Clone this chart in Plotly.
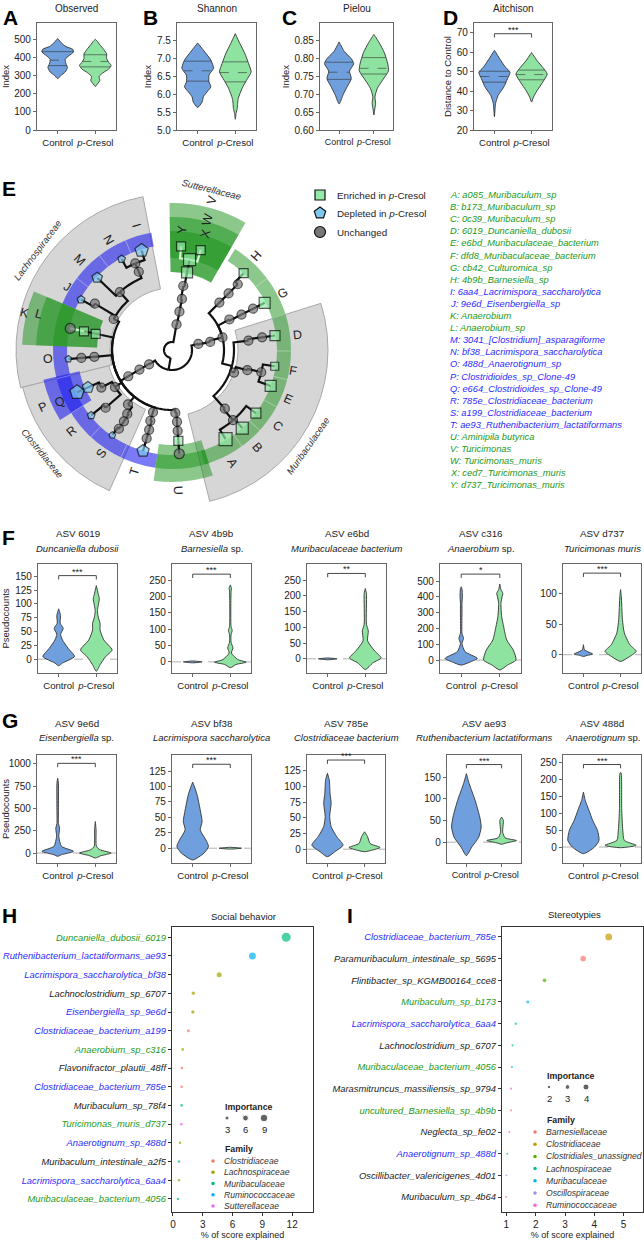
import numpy as np
import plotly.graph_objects as go

W, H = 644, 1240
NARROW = "Liberation Sans, Arial, sans-serif"
SANS = "Liberation Sans, Arial, sans-serif"
INK = "#222222"
TXT_COLORS = {"g": "#229a22", "b": "#2b2bff", "k": "#222222"}

GROUPS = ["Control", "<i>p</i>-Cresol"]
CTRL_FILL = "#6f9fdc"
CRES_FILL = "#8fe3a0"

# ---------- A-D: diversity violins, outlines as (value, half width) ----------
DIV_TITLES = ["Observed", "Shannon", "Pielou", "Aitchison"]
OBS_CTRL = [(283, 0), (300, .08), (320, .2), (345, .26), (365, .22), (390, .2), (410, .3), (430, .42),
            (445, .4), (460, .22), (480, .1), (495, .04), (505, 0)]
OBS_CRES = [(240, 0), (255, .06), (273, .12), (295, .1), (315, .2), (335, .35), (356, .42), (375, .35),
            (395, .3), (420, .3), (445, .22), (470, .12), (490, .05), (500, 0)]
SHA_CTRL = [(5.63, 0), (5.79, .12), (5.93, .15), (6.07, .25), (6.21, .35), (6.35, .3), (6.54, .3),
            (6.73, .42), (6.96, .35), (7.24, .15), (7.44, 0)]
SHA_CRES = [(5.3, 0), (5.47, .02), (5.6, .05), (5.75, .06), (5.89, .08), (6.17, .18), (6.4, .3),
            (6.63, .42), (6.87, .35), (7.15, .25), (7.43, .12), (7.7, 0)]
PIE_CTRL = [(0.673, 0), (0.70, .12), (0.725, .25), (0.744, .35), (0.765, .3), (0.786, .42), (0.80, .35),
            (0.82, .15), (0.847, 0)]
PIE_CRES = [(0.642, 0), (0.656, .02), (0.675, .05), (0.693, .03), (0.717, .1), (0.74, .25), (0.766, .42),
            (0.785, .4), (0.817, .3), (0.845, .15), (0.868, 0)]
AIT_CTRL = [(26.8, 0), (33.6, .03), (37.8, .1), (42, .25), (46.3, .35), (49.7, .42), (52.2, .3),
            (56.4, .15), (61, 0)]
AIT_CRES = [(34.4, 0), (36.9, .05), (40.3, .15), (44.6, .3), (48.8, .42), (52.2, .3), (55.6, .15), (59.8, 0)]
# quartiles (q1, median, q3)
OBS_Q = [(355, 385, 432), (348, 378, 415)]
SHA_Q = [(6.37, 6.66, 6.93), (6.35, 6.61, 6.91)]
PIE_Q = [(0.742, 0.762, 0.79), (0.757, 0.773, 0.803)]
AIT_Q = [(44.6, 47.5, 50.2), (45.8, 48.5, 50.8)]

# ---------- F/G: differentially abundant ASVs ----------
F_ASV = ["ASV 6019", "ASV 4b9b", "ASV e6bd", "ASV c316", "ASV d737"]
F_TAXA = ["<i>Duncaniella dubosii</i>", "<i>Barnesiella</i> sp.", "<i>Muribaculaceae bacterium</i>",
          "<i>Anaerobium</i> sp.", "<i>Turicimonas muris</i>"]
F_SIG = ["***", "***", "**", "*", "***"]
F_SIG_Y = [151, 268, 271, 544, 134]
F_RANGE = [(-25, 172), (-34, 299), (-45, 301), (-82, 608), (-30, 149)]
F_TICKS = [[0, 25, 50, 75, 100, 125, 150], [0, 50, 100, 150, 200, 250], [0, 50, 100, 150, 200, 250],
           [0, 100, 200, 300, 400, 500], [0, 50, 100]]
F_CTRL = [
    [(-12, 0), (-7, .1), (4.8, .42), (19.7, .25), (34.7, .1), (45, .05), (55.6, .12), (65, .04), (79, .05), (91, 0)],
    [(-3, 0), (0, .25), (3, 0)],
    [(-3, 0), (0, .25), (3, 0)],
    [(-32, 0), (-10, .25), (10.5, .42), (53, .1), (105, .02), (137, .06), (170, .02), (295, .02), (359, .02),
     (400, .03), (422, .03), (450, .02), (464, 0)],
    [(-3, 0), (-1, .1), (1, .25), (8, .03), (16.5, 0)],
]
F_CRES = [
    [(-22, 0), (-10, .1), (4.8, .25), (16.7, .42), (34.7, .2), (52.6, .1), (64.5, .1), (76.5, .05), (88, .03),
     (109, .08), (118, .05), (133, 0)],
    [(-18, 0), (-8, .15), (-1, .42), (7, .2), (27, .03), (42.5, .07), (60, .02), (83, .02), (96, .05), (108, .02),
     (214, .02), (225, .03), (235, 0)],
    [(-34, 0), (-13, .2), (3, .42), (25, .25), (57, .06), (89, .08), (110, .03), (207, .03), (223, 0)],
    [(-63, 0), (-32, .2), (0, .42), (63, .35), (127, .18), (211, .1), (274, .05), (359, .03), (401, .06),
     (422, .08), (445, .03), (481, 0)],
    [(-11, 0), (-2.7, .25), (5.5, .42), (16.5, .25), (36, .1), (58, .05), (96, .02), (107, 0)],
]
G_ASV = ["ASV 9e6d", "ASV bf38", "ASV 785e", "ASV ae93", "ASV 488d"]
G_TAXA = ["<i>Eisenbergiella</i> sp.", "<i>Lacrimispora saccharolytica</i>", "<i>Clostridiaceae bacterium</i>",
          "<i>Ruthenibacterium lactatiformans</i>", "<i>Anaerotignum</i> sp."]
G_SIG = ["***", "***", "***", "***", "***"]
G_SIG_Y = [1007, 136, 142, 179, 243]
G_RANGE = [(-112, 1101), (-24, 151), (-22, 150), (-48, 201), (-47, 271)]
G_TICKS = [[0, 250, 500, 750, 1000], [0, 25, 50, 75, 100, 125], [0, 25, 50, 75, 100, 125],
           [0, 50, 100, 150], [0, 50, 100, 150, 200, 250]]
G_CTRL = [
    [(-37, 0), (-19, .1), (19, .42), (75, .1), (187, .03), (280, .05), (330, .02), (485, .02), (784, .02), (840, 0)],
    [(-19, 0), (-8, .3), (2.7, .42), (13.4, .35), (29.5, .2), (43, .25), (62, .2), (86, .12), (99, .05), (107, 0)],
    [(-12, 0), (-4, .2), (6.4, .42), (20, .25), (36, .1), (52, .06), (73, .1), (89, .07), (110, .05), (121, 0)],
    [(-31, 0), (-11.5, .15), (11.5, .35), (35, .42), (58, .38), (96, .25), (135, .08), (158, 0)],
    [(-19.6, 0), (0, .3), (19.6, .42), (49, .38), (78, .25), (108, .15), (137, .05), (162, 0)],
]
G_CRES = [
    [(-56, 0), (-30, .15), (0, .42), (37, .12), (75, .03), (261, .02), (354, 0)],
    [(-1.5, 0), (0, .3), (1.5, 0)],
    [(-4, 0), (-1.6, .2), (2.7, .42), (9, .15), (20, .08), (27.7, 0)],
    [(-5, 0), (-2.3, .1), (3.8, .42), (10, .1), (23, .03), (50, .05), (58, 0)],
    [(-2, 0), (5, .42), (19.6, .1), (49, .06), (113, .03), (216, .02), (220, 0)],
]

# ---------- E: taxonomic tree (id, parent, radius, angle, marker kind, marker size) ----------
TREE = [
    ("root", None, 8, 260, "", 0), ("p1", "root", 20, 260, "", 0),
    ("f0", "p1", 27, 212, "c", 9), ("f1", "f0", 38, 211, "c", 9), ("f2", "f1", 51, 211, "c", 9),
    ("f3", "f2", 60, 211, "", 0),
    ("la", "f3", 66, 152, "c", 9), ("lb", "la", 78, 132, "c", 9), ("lc", "lb", 85, 113, "c", 9),
    ("ld", "lc", 94, 113, "c", 9), ("I", "ld", 104, 107, "p", 14), ("N", "ld", 104, 119, "p", 8),
    ("M", "lb", 104, 136, "p", 11), ("lj", "la", 90, 149, "c", 9), ("J", "lj", 104, 151, "p", 8),
    ("ll", "f3", 72, 168, "", 0), ("l1", "ll", 78, 168, "s", 9), ("l2", "l1", 90, 168, "s", 9),
    ("K", "l2", 104, 168, "c", 10),
    ("lo", "f3", 78, 185, "c", 9), ("lo2", "lo", 91, 185, "c", 9), ("O", "lo2", 104, 185, "p", 7),
    ("cf", "f3", 68, 213, "c", 9), ("cq", "cf", 80, 208, "c", 9), ("Q2", "cq", 92, 204, "p", 12),
    ("Q", "Q2", 104, 204, "p", 15), ("cr", "cf", 88, 221, "c", 9), ("R", "cr", 104, 219, "p", 8),
    ("cs", "f3", 70, 231, "c", 9), ("cs2", "cs", 78, 235, "c", 9), ("cs3", "cs2", 86, 236, "c", 9),
    ("cs4", "cs3", 95, 236, "c", 9), ("S", "cs4", 104, 235, "p", 7),
    ("ct", "f3", 65, 253, "c", 9), ("ct2", "ct", 74, 253, "c", 9), ("ct3", "ct2", 83, 254, "c", 9),
    ("ct4", "ct3", 92, 254, "c", 9), ("T", "ct4", 105, 254, "p", 13),
    ("cu", "f3", 63, 273, "c", 9), ("cu2", "cu", 72, 274, "c", 9), ("cu3", "cu2", 81, 274, "c", 9),
    ("cu4", "cu3", 91, 274, "s", 9), ("U", "cu4", 104, 274, "c", 10),
    ("b0", "p1", 27, 373, "c", 9), ("b1", "b0", 39, 372, "c", 9), ("b2", "b1", 52, 374, "c", 9),
    ("bg", "b2", 65, 388, "c", 9), ("bg2", "bg", 78, 387, "c", 9), ("bg3", "bg2", 91, 387, "c", 9),
    ("G", "bg3", 104, 387, "s", 11),
    ("bh", "b2", 67, 405, "c", 9), ("bh2", "bh", 80, 405, "c", 9), ("bh3", "bh2", 93, 405, "c", 9),
    ("H", "bh3", 105, 407, "s", 9),
    ("mu", "b2", 62, 345, "", 0), ("md", "mu", 77, 367, "c", 9), ("md2", "md", 91, 368, "c", 9),
    ("D", "md2", 104, 368, "s", 10),
    ("me", "mu", 66, 340, "c", 9), ("me2", "me", 78, 345, "c", 9), ("me3", "me2", 92, 346, "c", 9),
    ("F", "me3", 104, 351, "s", 8), ("E", "me3", 105, 340, "s", 11),
    ("ma", "mu", 79, 312, "c", 9), ("ma2", "ma", 93, 311, "c", 9), ("C", "ma2", 105, 323, "s", 10),
    ("B", "ma2", 105, 312, "s", 12), ("A", "ma2", 104, 301, "s", 13),
    ("su0", "root", 26, 80, "c", 9), ("su1", "su0", 39, 79, "c", 9), ("su2", "su1", 52, 79, "c", 9),
    ("su3", "su2", 65, 80, "c", 9), ("su4", "su3", 79, 79, "s", 11), ("su5", "su4", 92, 79, "s", 12),
    ("Y", "su5", 104, 85, "s", 9), ("X", "su5", 104, 74, "s", 9),
]
LIGHT_EDGES = {"X", "Y", "K"}
# family backgrounds (name, angle from, angle to, r inner, r outer)
FAMILY_SECTORS = [("Lachnospiraceae", 100.7, 194, 62, 156), ("Clostridiaceae", 194, 246, 65, 154),
                  ("Muribaculaceae", -76, 17.4, 66, 156)]
# enriched (g) / depleted (b) highlight bands
HIGHLIGHTS = [(-74, 58, 105, 119, "g"), (100, 157, 105, 119, "b"), (178, 262, 105, 119, "b"),
              (60, 91, 78, 147, "g"), (60, 91, 78, 133, "g"), (60, 91, 92, 119, "g"),
              (157, 178, 75, 150, "g"), (157, 178, 75, 136, "g"), (157, 178, 105, 119, "g"),
              (262, 288, 95, 132, "g"), (262, 288, 105, 119, "g"), (193, 212, 95, 132, "b")]
# faint dividers between neighbouring leaves on the coloured ring
RING_DIVIDERS = [306, 317.5, 331.5, 345.5, 359.5, 377.5, 397, 113, 127.5, 143, 194, 212, 227, 244.5]
LETTERS = ["A", "B", "C", "E", "F", "D", "G", "H", "X", "Y", "W", "V", "I", "N", "M", "J", "L", "K",
           "O", "Q", "P", "R", "S", "T", "U"]
LETTER_R = [128, 129, 130, 126, 123, 126, 125, 126, 121, 121, 135, 155, 130, 127, 129, 122, 138, 152,
            124, 124, 141, 129, 126, 127, 140]
LETTER_T = [298, 311, 324, 337, 350, 7, 27, 48, 74, 85, 75, 75, 106, 120, 136, 149, 165, 166,
            184, 205, 204, 219, 236, 253, 272.5]
FAMILY_LABELS = [("Lachnospiraceae", 168, 143.5, -53), ("Sutterellaceae", 165, 76, 14),
                 ("Clostridiaceae", 166, 218.7, 51), ("Muribaculaceae", 166, -35, -55)]
LEAF_LIST = ["A: a085_Muribaculum_sp", "B: b173_Muribaculum_sp", "C: 0c39_Muribaculum_sp",
             "D: 6019_Duncaniella_dubosii", "E: e6bd_Muribaculaceae_bacterium", "F: dfd8_Muribaculaceae_bacterium",
             "G: cb42_Culturomica_sp", "H: 4b9b_Barnesiella_sp", "I: 6aa4_Lacrimispora_saccharolytica",
             "J: 9e6d_Eisenbergiella_sp", "K: Anaerobium", "L: Anaerobium_sp",
             "M: 3041_[Clostridium]_asparagiforme", "N: bf38_Lacrimispora_saccharolytica",
             "O: 488d_Anaerotignum_sp", "P: Clostridioides_sp_Clone-49", "Q: e664_Clostridioides_sp_Clone-49",
             "R: 785e_Clostridiaceae_bacterium", "S: a199_Clostridiaceae_bacterium",
             "T: ae93_Ruthenibacterium_lactatiformans", "U: Aminipila butyrica", "V: Turicimonas",
             "W: Turicimonas_muris", "X: ced7_Turicimonas_muris", "Y: d737_Turicimonas_muris"]
LEAF_TAG = ["g"] * 8 + ["b", "b", "g", "g"] + ["b"] * 8 + ["g"] * 5

# ---------- H/I: random forest importance ----------
H_TAXA = ["Duncaniella_dubosii_6019", "Ruthenibacterium_lactatiformans_ae93", "Lacrimispora_saccharolytica_bf38",
          "Lachnoclostridium_sp_6707", "Eisenbergiella_sp_9e6d", "Clostridiaceae_bacterium_a199",
          "Anaerobium_sp_c316", "Flavonifractor_plautii_48ff", "Clostridiaceae_bacterium_785e",
          "Muribaculum_sp_78f4", "Turicimonas_muris_d737", "Anaerotignum_sp_488d",
          "Muribaculum_intestinale_a2f5", "Lacrimispora_saccharolytica_6aa4", "Muribaculaceae_bacterium_4056"]
H_SCORE = [11.4, 8.0, 4.65, 2.05, 2.0, 1.55, 0.98, 0.9, 0.87, 0.87, 0.84, 0.7, 0.6, 0.6, 0.5]
H_FAMILY = ["Muribaculaceae", "Ruminococcaceae", "Lachnospiraceae", "Lachnospiraceae", "Lachnospiraceae",
            "Clostridiaceae", "Lachnospiraceae", "Clostridiaceae", "Clostridiaceae", "Muribaculaceae",
            "Sutterellaceae", "Lachnospiraceae", "Muribaculaceae", "Lachnospiraceae", "Muribaculaceae"]
H_TAG = ["g", "b", "b", "k", "b", "b", "g", "k", "b", "k", "g", "b", "k", "b", "g"]
H_FAM_COLORS = {"Clostridiaceae": "#F8766D", "Lachnospiraceae": "#A3A500", "Muribaculaceae": "#00BF7D",
                "Ruminococcaceae": "#00B0F6", "Sutterellaceae": "#E76BF3"}
H_IMPORTANCE = [3, 6, 9]

I_TAXA = ["Clostridiaceae_bacterium_785e", "Paramuribaculum_intestinale_sp_5695", "Flintibacter_sp_KGMB00164_cce8",
          "Muribaculum_sp_b173", "Lacrimispora_saccharolytica_6aa4", "Lachnoclostridium_sp_6707",
          "Muribaculaceae_bacterium_4056", "Marasmitruncus_massiliensis_sp_9794", "uncultured_Barnesiella_sp_4b9b",
          "Neglecta_sp_fe02", "Anaerotignum_sp_488d", "Oscillibacter_valericigenes_4d01", "Muribaculum_sp_4b64"]
I_SCORE = [4.49, 3.62, 2.30, 1.73, 1.32, 1.21, 1.19, 1.16, 1.16, 1.10, 1.03, 1.0, 0.99]
I_FAMILY = ["Clostridiaceae", "Barnesiellaceae", "Clostridiales_unassigned", "Muribaculaceae", "Lachnospiraceae",
            "Lachnospiraceae", "Muribaculaceae", "Ruminococcaceae", "Barnesiellaceae", "Ruminococcaceae",
            "Lachnospiraceae", "Oscillospiraceae", "Barnesiellaceae"]
I_TAG = ["b", "k", "k", "g", "b", "k", "g", "k", "g", "k", "b", "k", "k"]
I_FAM_COLORS = {"Barnesiellaceae": "#F8766D", "Clostridiaceae": "#C49A00", "Clostridiales_unassigned": "#53B400",
                "Lachnospiraceae": "#00C094", "Muribaculaceae": "#00B6EB", "Oscillospiraceae": "#A58AFF",
                "Ruminococcaceae": "#FB61D7"}
I_IMPORTANCE = [2, 3, 4]

fig = go.Figure()
lay = {}
ann = []
shapes = []
PX = 20  # overlay axis in pixel units, used for text and legend glyphs


def frame():
    return dict(showline=True, mirror=True, linecolor="#666", linewidth=1.2, showgrid=False, zeroline=False,
                ticks="outside", ticklen=3, tickcolor="#666", automargin=False, tickangle=0,
                tickfont=dict(family=NARROW, size=10, color=INK))


def axes(n, px0, px1, py0, py1, xr, yr, xkw=None, ykw=None):
    s = "" if n == 1 else str(n)
    xa = frame()
    xa.update(domain=[px0 / W, px1 / W], range=xr, anchor="y" + s)
    ya = frame()
    ya.update(domain=[1 - py1 / H, 1 - py0 / H], range=yr, anchor="x" + s)
    xa.update(xkw or {})
    ya.update(ykw or {})
    lay["xaxis" + s] = xa
    lay["yaxis" + s] = ya
    return "x" + s, "y" + s


def txt(x, y, s, size=10, family=NARROW, color=INK, xanchor="center", angle=0):
    ann.append(dict(x=x, y=y, xref=f"x{PX}", yref=f"y{PX}", text=s, showarrow=False, xanchor=xanchor,
                    yanchor="middle", textangle=angle, font=dict(family=family, size=size, color=color)))


def violin(xa, ya, xc, prof, fill, quart=None):
    ys = [p[0] for p in prof]
    ws = [p[1] for p in prof]
    fig.add_trace(go.Scatter(x=[xc - w for w in ws] + [xc + w for w in ws[::-1]], y=ys + ys[::-1],
                             xaxis=xa, yaxis=ya, mode="lines", fill="toself", fillcolor=fill,
                             line=dict(color="#333", width=0.9, shape="spline", smoothing=0.6),
                             hoverinfo="skip", showlegend=False))
    if quart:
        for i, q in enumerate(quart):
            w = float(np.interp(q, ys, ws))
            fig.add_trace(go.Scatter(x=[xc - w, xc + w], y=[q, q], xaxis=xa, yaxis=ya, mode="lines",
                                     line=dict(color="#333", width=0.6, dash="dash" if i == 1 else "solid"),
                                     hoverinfo="skip", showlegend=False))


def violin_panel(n, box, yr, yticks, ctrl, cres, quart=(None, None), sig=None, sig_y=None, zero=False,
                 ytitle=None, xfont=9.6):
    ykw = dict(tickvals=yticks)
    if ytitle:
        ykw["title"] = dict(text=ytitle, font=dict(family=NARROW, size=9.5, color=INK), standoff=3)
    xa, ya = axes(n, box[0], box[1], box[2], box[3], [0.45, 2.55], yr,
                  dict(tickvals=[1, 2], ticktext=GROUPS, tickfont=dict(family=NARROW, size=xfont, color=INK)), ykw)
    if zero:
        shapes.append(dict(type="line", xref=f"{xa} domain", x0=0, x1=1, yref=ya, y0=0, y1=0, layer="below",
                           line=dict(color="#b0b0b0", width=1, dash="dash")))
    violin(xa, ya, 1, ctrl, CTRL_FILL, quart[0])
    violin(xa, ya, 2, cres, CRES_FILL, quart[1])
    if sig:
        d = (yr[1] - yr[0]) * 0.035
        fig.add_trace(go.Scatter(x=[1, 1, 2, 2], y=[sig_y - d, sig_y, sig_y, sig_y - d], xaxis=xa, yaxis=ya,
                                 mode="lines", line=dict(color="#333", width=0.9), hoverinfo="skip",
                                 showlegend=False))
        ann.append(dict(x=1.5, y=sig_y, xref=xa, yref=ya, text=sig, showarrow=False, yanchor="bottom", yshift=-3,
                        font=dict(family=SANS, size=9, color=INK)))


# ---- A-D ----
DIV_BOX_X = [(37, 116), (177, 256), (320, 393), (474, 552)]
DIV_RANGE = [(0, 590), (5.0, 8.0), (0.60, 0.90), (20, 75)]
DIV_TICKS = [[0, 100, 200, 300, 400, 500], [5.0, 5.5, 6.0, 6.5, 7.0, 7.5],
             [0.60, 0.65, 0.70, 0.75, 0.80, 0.85], [20, 30, 40, 50, 60, 70]]
DIV_YTITLE = ["Index", "Index", "Index", "Distance to Control"]
DIV_DATA = [(OBS_CTRL, OBS_CRES, OBS_Q), (SHA_CTRL, SHA_CRES, SHA_Q), (PIE_CTRL, PIE_CRES, PIE_Q),
            (AIT_CTRL, AIT_CRES, AIT_Q)]
for i in range(4):
    c, p, q = DIV_DATA[i]
    violin_panel(i + 1, (DIV_BOX_X[i][0], DIV_BOX_X[i][1], 23, 130), DIV_RANGE[i], DIV_TICKS[i], c, p, q,
                 sig="***" if i == 3 else None, sig_y=69.5, ytitle=DIV_YTITLE[i], xfont=8.9 if i == 2 else 9.6)
    if i == 1:
        lay["yaxis2"]["tickformat"] = ".1f"
    if i == 2:
        lay["yaxis3"]["tickformat"] = ".2f"
    txt((DIV_BOX_X[i][0] + DIV_BOX_X[i][1]) / 2, 8, DIV_TITLES[i], size=10)

# ---- F/G ----
F_BOX_X = [(38, 117), (172, 251), (307, 386), (440, 521), (563, 641)]
G_BOX_X = [(37, 116), (172, 251), (307, 385), (447, 521), (563, 641)]
for i in range(5):
    violin_panel(5 + i, (F_BOX_X[i][0], F_BOX_X[i][1], 564, 673), F_RANGE[i], F_TICKS[i], F_CTRL[i], F_CRES[i],
                 sig=F_SIG[i], sig_y=F_SIG_Y[i], zero=True, ytitle="Pseudocounts" if i == 0 else None)
    cx = (F_BOX_X[i][0] + F_BOX_X[i][1]) / 2
    txt(cx, 533, F_ASV[i], size=9.8)
    txt(cx, 548, F_TAXA[i], size=9.5)
    violin_panel(10 + i, (G_BOX_X[i][0], G_BOX_X[i][1], 755, 863), G_RANGE[i], G_TICKS[i], G_CTRL[i], G_CRES[i],
                 sig=G_SIG[i], sig_y=G_SIG_Y[i], zero=True, ytitle="Pseudocounts" if i == 0 else None,
                 xfont=9.1 if i == 3 else 9.6)
    cx = (G_BOX_X[i][0] + G_BOX_X[i][1]) / 2
    txt(cx, 723, G_ASV[i], size=9.8)
    txt(cx, 737, G_TAXA[i], size=9.5)


# ---- H/I importance dot plots ----
def importance_panel(n, box, xr, xticks, taxa, score, fam, tags, colors, size_fn, yr):
    ticktext = [f"<span style='color:{TXT_COLORS[t]}'><i>{s}</i></span>" for s, t in zip(taxa, tags)]
    xa, ya = axes(n, box[0], box[1], box[2], box[3], xr, yr,
                  dict(tickvals=xticks, linecolor="#333", tickcolor="#333",
                       title=dict(text="% of score explained", font=dict(family=NARROW, size=9, color=INK),
                                  standoff=4)),
                  dict(tickvals=list(range(len(taxa))), ticktext=ticktext, linecolor="#333", tickcolor="#333",
                       tickfont=dict(family=NARROW, size=9.4, color=INK)))
    fig.add_trace(go.Scatter(x=score, y=list(range(len(taxa))), xaxis=xa, yaxis=ya, mode="markers",
                             marker=dict(color=[colors[f] for f in fam], size=[size_fn(v) for v in score],
                                         line=dict(width=0)),
                             hoverinfo="skip", showlegend=False))


def h_size(v):
    return 2.2 + 0.6 * v


def i_size(v):
    return 0.5 + 1.4 * v


importance_panel(15, (172, 313, 927, 1212), [-0.1, 14.1], [0, 3, 6, 9, 12], H_TAXA, H_SCORE, H_FAMILY, H_TAG,
                 H_FAM_COLORS, h_size, [14.7, -0.55])
importance_panel(16, (502, 643, 927, 1212), [0.85, 5.66], [1, 2, 3, 4, 5], I_TAXA, I_SCORE, I_FAMILY, I_TAG,
                 I_FAM_COLORS, i_size, [12.69, -0.46])
txt(243, 916, "Social behavior", size=9.5)
txt(574, 914, "Stereotypies", size=9.5)

# legend glyphs in pixel overlay axis
lay[f"xaxis{PX}"] = dict(domain=[0, 1], range=[0, W], visible=False, fixedrange=True, anchor=f"y{PX}",
                         automargin=False)
lay[f"yaxis{PX}"] = dict(domain=[0, 1], range=[H, 0], visible=False, fixedrange=True, anchor=f"x{PX}",
                         automargin=False)


def px_markers(xs, ys, **mk):
    fig.add_trace(go.Scatter(x=xs, y=ys, xaxis=f"x{PX}", yaxis=f"y{PX}", mode="markers", marker=mk,
                             hoverinfo="skip", showlegend=False))


def importance_legend(x0, y0, values, size_fn, fam_colors, fam_y0, fam_step, dx):
    txt(x0, y0, "<b>Importance</b>", size=8.8, xanchor="left")
    xs = [x0 + 4 + dx * k for k in range(len(values))]
    px_markers(xs, [y0 + 11] * len(values), color="#222", size=[size_fn(v) for v in values])
    for xk, v in zip(xs, values):
        txt(xk, y0 + 22, str(v), size=9.5)
    txt(x0, fam_y0 - 12, "<b>Family</b>", size=8.8, xanchor="left")
    names = list(fam_colors)
    ys = [fam_y0 + fam_step * k for k in range(len(names))]
    px_markers([x0 - 10] * len(names), ys, color=[fam_colors[f] for f in names], size=3.5)
    for yk, f in zip(ys, names):
        txt(x0 - 1, yk, f"<i>{f}</i>", size=8.6, color="#333", xanchor="left")


importance_legend(223, 1107, H_IMPORTANCE, h_size, H_FAM_COLORS, 1161, 11.25, 18.5)
importance_legend(545, 1076, I_IMPORTANCE, i_size, I_FAM_COLORS, 1132, 12.2, 18.5)

# ---- E: circular tree ----
CX, CY, RPX = 172, 350, 160
lay["polar"] = dict(domain=dict(x=[(CX - RPX) / W, (CX + RPX) / W], y=[1 - (CY + RPX) / H, 1 - (CY - RPX) / H]),
                    bgcolor="rgba(0,0,0,0)", radialaxis=dict(range=[0, RPX], visible=False),
                    angularaxis=dict(visible=False, rotation=0, direction="counterclockwise"))
for name, t0, t1, r0, r1 in FAMILY_SECTORS:
    fig.add_trace(go.Barpolar(theta=[(t0 + t1) / 2], width=[t1 - t0], base=[r0], r=[r1 - r0],
                              marker=dict(color="#d6d6d6", line=dict(color="#a8a8a8", width=1)),
                              hoverinfo="skip", showlegend=False))
HL_COLORS = {"g": "rgba(25,145,25,0.5)", "b": "rgba(25,25,240,0.58)"}
for t0, t1, r0, r1, c in HIGHLIGHTS:
    fig.add_trace(go.Barpolar(theta=[(t0 + t1) / 2], width=[t1 - t0], base=[r0], r=[r1 - r0],
                              marker=dict(color=HL_COLORS[c], line=dict(width=0)), hoverinfo="skip",
                              showlegend=False))
div_r, div_t = [], []
for t in RING_DIVIDERS:
    div_r += [105, 119, None]
    div_t += [t, t, None]
fig.add_trace(go.Scatterpolar(r=div_r, theta=div_t, mode="lines", line=dict(color="rgba(255,255,255,0.35)", width=1),
                              hoverinfo="skip", showlegend=False))

pos = {nid: (r, t) for nid, _, r, t, _, _ in TREE}
edge = {"dark": ([], []), "light": ([], [])}
for nid, par, r, t, kind, size in TREE:
    if par is None:
        continue
    pr, pt = pos[par]
    steps = max(2, int(abs(t - pt) / 2) + 1)
    ts = list(np.linspace(pt, t, steps)) + [t, None]
    rs = [pr] * steps + [r, None]
    key = "light" if nid in LIGHT_EDGES else "dark"
    edge[key][0].extend(rs)
    edge[key][1].extend(ts)
for key, col in (("dark", "#111"), ("light", "#d8f5d8")):
    fig.add_trace(go.Scatterpolar(r=edge[key][0], theta=edge[key][1], mode="lines",
                                  line=dict(color=col, width=2.2), hoverinfo="skip", showlegend=False))
KIND_STYLE = {"c": ("circle", "#777777"), "s": ("square", "#93eaa6"), "p": ("pentagon", "#7cc8f0")}
for kind, (sym, col) in KIND_STYLE.items():
    sel = [n for n in TREE if n[4] == kind]
    fig.add_trace(go.Scatterpolar(r=[n[2] for n in sel], theta=[n[3] for n in sel], mode="markers",
                                  marker=dict(symbol=sym, color=col, size=[n[5] for n in sel],
                                              line=dict(color="#111", width=1.2)),
                                  hoverinfo="skip", showlegend=False))


def polar_px(r, t):
    a = np.radians(t)
    return CX + r * np.cos(a), CY - r * np.sin(a)


for lab, r, t in zip(LETTERS, LETTER_R, LETTER_T):
    tn = (t + 180) % 360 - 180
    ang = -tn if -90 < tn <= 90 else 180 - tn
    ang = (ang + 180) % 360 - 180
    x, y = polar_px(r, t)
    txt(x, y, lab, size=12.5, family=SANS, color="#222", angle=ang)
for name, r, t, ang in FAMILY_LABELS:
    x, y = polar_px(r, t)
    txt(x, y, f"<i>{name}</i>", size=9.5, color="#333", angle=ang)

# E legend
px_markers([320], [195], symbol="square", color="#93eaa6", size=10, line=dict(color="#111", width=1.2))
px_markers([320], [213], symbol="pentagon", color="#7cc8f0", size=12, line=dict(color="#111", width=1.2))
px_markers([320], [232], symbol="circle", color="#777777", size=11, line=dict(color="#111", width=1.2))
txt(335, 195, "Enriched in <i>p</i>-Cresol", size=9.8, xanchor="left")
txt(335, 213, "Depleted in <i>p</i>-Cresol", size=9.8, xanchor="left")
txt(335, 232, "Unchanged", size=9.8, xanchor="left")
for k, (s, tag) in enumerate(zip(LEAF_LIST, LEAF_TAG)):
    txt(448, 195 + 12.1 * k, f"<i>{s}</i>", size=9.3, color=TXT_COLORS[tag], xanchor="left")

# panel letters
for lab, x, y in [("A", 10, 17), ("B", 150, 17), ("C", 289, 17), ("D", 450, 17), ("E", 9, 188),
                  ("F", 8, 537), ("G", 10, 720), ("H", 9, 915), ("I", 350, 915)]:
    txt(x, y, f"<b>{lab}</b>", size=21, family=SANS, color="#000")

lay.update(width=W, height=H, margin=dict(l=0, r=0, t=0, b=0, autoexpand=False), paper_bgcolor="white",
           plot_bgcolor="rgba(0,0,0,0)", showlegend=False, annotations=ann, shapes=shapes,
           font=dict(family=NARROW, color=INK))
fig.update_layout(**lay)
fig.write_html("out.html", config={"displayModeBar": False},
               post_script="document.body.style.margin='0px';document.body.style.overflow='hidden';")
